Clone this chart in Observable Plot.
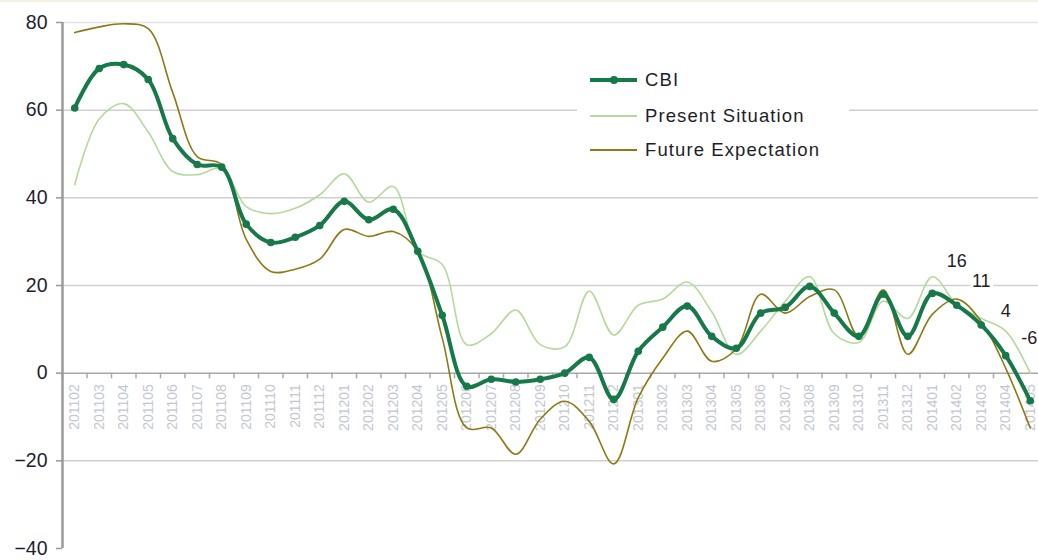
<!DOCTYPE html>
<html>
<head>
<meta charset="utf-8">
<script src="https://cdn.jsdelivr.net/npm/d3@7"></script>
<script src="https://cdn.jsdelivr.net/npm/@observablehq/plot@0.6"></script>
<style>
  html, body { margin: 0; padding: 0; background: #fff; }
  #wrap { position: relative; width: 1038px; height: 560px; overflow: hidden; font-family: "Liberation Sans", Arial, sans-serif; }
  #topline { position: absolute; left: 0; top: 0; width: 1038px; height: 2px; background: #f3f1e2; }
  #legend { position: absolute; left: 577px; top: 62px; width: 272px; height: 104px; background: #fff; }
  .item { position: absolute; left: 0; height: 20px; font-size: 18.5px; color: #1e1e28; line-height: 20px; letter-spacing: 1.1px; }
  .item .sw { position: absolute; left: 13px; top: 9px; width: 47px; }
  .item span { position: absolute; left: 68px; top: 0; white-space: nowrap; }
</style>
</head>
<body>
<div id="wrap">
  <div id="chart"></div>
  <div id="topline"></div>
  <div id="legend">
    <div class="item" style="top:8px"><div class="sw" style="height:4px;top:8px;background:#17784a"></div><div style="position:absolute;left:33px;top:6px;width:8px;height:8px;border-radius:4px;background:#17784a"></div><span>CBI</span></div>
    <div class="item" style="top:44px"><div class="sw" style="height:2px;background:#b5d99c"></div><span>Present Situation</span></div>
    <div class="item" style="top:78px"><div class="sw" style="height:2px;background:#8d7a14"></div><span>Future Expectation</span></div>
  </div>
</div>
<script>
const months = ["201102","201103","201104","201105","201106","201107","201108","201109","201110","201111","201112",
  "201201","201202","201203","201204","201205","201206","201207","201208","201209","201210","201211","201212",
  "201301","201302","201303","201304","201305","201306","201307","201308","201309","201310","201311","201312",
  "201401","201402","201403","201404","201405"];
const cbi = [60.5,69.5,70.4,67,53.5,47.6,47,34,29.8,31,33.7,
  39.2,35,37.4,27.8,13.2,-3,-1.4,-2,-1.4,0,3.6,-6,
  5,10.5,15.3,8.4,5.7,13.7,15,19.8,13.7,8.4,18,8.4,
  18.2,15.5,11,4,-6.3];
const present = [43,58,61.5,55,46,45.3,46.7,38,36.4,37.6,40.7,
  45.5,39,42.6,27.8,24.8,6.5,9,14.4,6.5,6,18.7,8.7,
  15.5,16.9,20.8,14,4.3,9.6,16.4,22,9,7,16.4,12.5,
  22,15.7,12.5,9.6,0];
const future = [77.7,79,79.7,78.6,64,49.4,47.6,30.5,23.2,23.7,26,
  32.8,31.2,32.3,27.8,8,-12.5,-12.5,-18.5,-10.5,-6.4,-11,-20.7,
  -5.6,3.4,9.6,2.7,5.5,18,13.7,17.5,19,8.4,19,4.3,
  13.4,16.9,11.8,1.1,-12.5];
const yTicks = [-40,-20,0,20,40,60,80];
const labelMonths = ["201402","201403","201404","201405"];
const labelTexts = ["16","11","4","-6"];

const rows = (vals) => months.map((m, i) => ({m, v: vals[i]}));
const cbiRows = rows(cbi);
const labels = labelMonths.map((m, i) => ({m, t: labelTexts[i], v: cbi[months.indexOf(m)]}));
const half = 24.5 / 2;

const chart = Plot.plot({
  width: 1038,
  height: 560,
  marginLeft: 62, marginRight: 0, marginTop: 22, marginBottom: 12,
  style: {fontFamily: '"Liberation Sans", Arial, sans-serif', background: "transparent", overflow: "visible"},
  x: {type: "band", domain: months, range: [62, 1042], padding: 0, round: false, axis: null},
  y: {domain: [-40, 80], range: [548, 22]},
  marks: [
    Plot.ruleY(yTicks.filter(d => d !== -40 && d !== 0), {stroke: d => d === 80 ? "#e4e4e4" : "#d0d0d0", strokeWidth: 1.5}),
    Plot.ruleY([0], {stroke: "#a8a8a8", strokeWidth: 1.5}),
    Plot.ruleX(months, {x: d => d, y1: 0, y2: -1.3, dx: -half, stroke: "#aaa", strokeWidth: 1.5}),
    Plot.ruleX([months[0]], {x: d => d, y1: -40, y2: 80, dx: -half, stroke: "#9a9a9a", strokeWidth: 2.5}),
    Plot.axisY({ticks: yTicks, tickSize: 6, tickPadding: 9, fontSize: 19.5, color: "#1e1e30", stroke: "#999", strokeWidth: 1.5, label: null}),
    Plot.text(months, {x: d => d, y: 0, text: d => d, rotate: -90, textAnchor: "end", dy: 11, fontSize: 14, fill: "#c4c7d0", style: "letter-spacing:0.9px"}),
    Plot.line(rows(present), {x: "m", y: "v", stroke: "#b5d99c", strokeWidth: 1.6, curve: "catmull-rom"}),
    Plot.line(rows(future), {x: "m", y: "v", stroke: "#8d7a14", strokeWidth: 1.6, curve: "catmull-rom"}),
    Plot.line(cbiRows, {x: "m", y: "v", stroke: "#17784a", strokeWidth: 4, curve: "catmull-rom"}),
    Plot.dot(cbiRows, {x: "m", y: "v", r: 3.8, fill: "#17784a"}),
    Plot.text(labels.filter(d => d.v >= 0), {x: "m", y: "v", text: "t", dy: -44, fontSize: 18, fill: "#1e1e28", stroke: "#fff", strokeWidth: 7, paintOrder: "stroke"}),
    Plot.text(labels.filter(d => d.v < 0), {x: "m", y: "v", text: "t", dy: -63, dx: -1, fontSize: 18, fill: "#1e1e28"})
  ]
});
document.getElementById("chart").appendChild(chart);
</script>
</body>
</html>
